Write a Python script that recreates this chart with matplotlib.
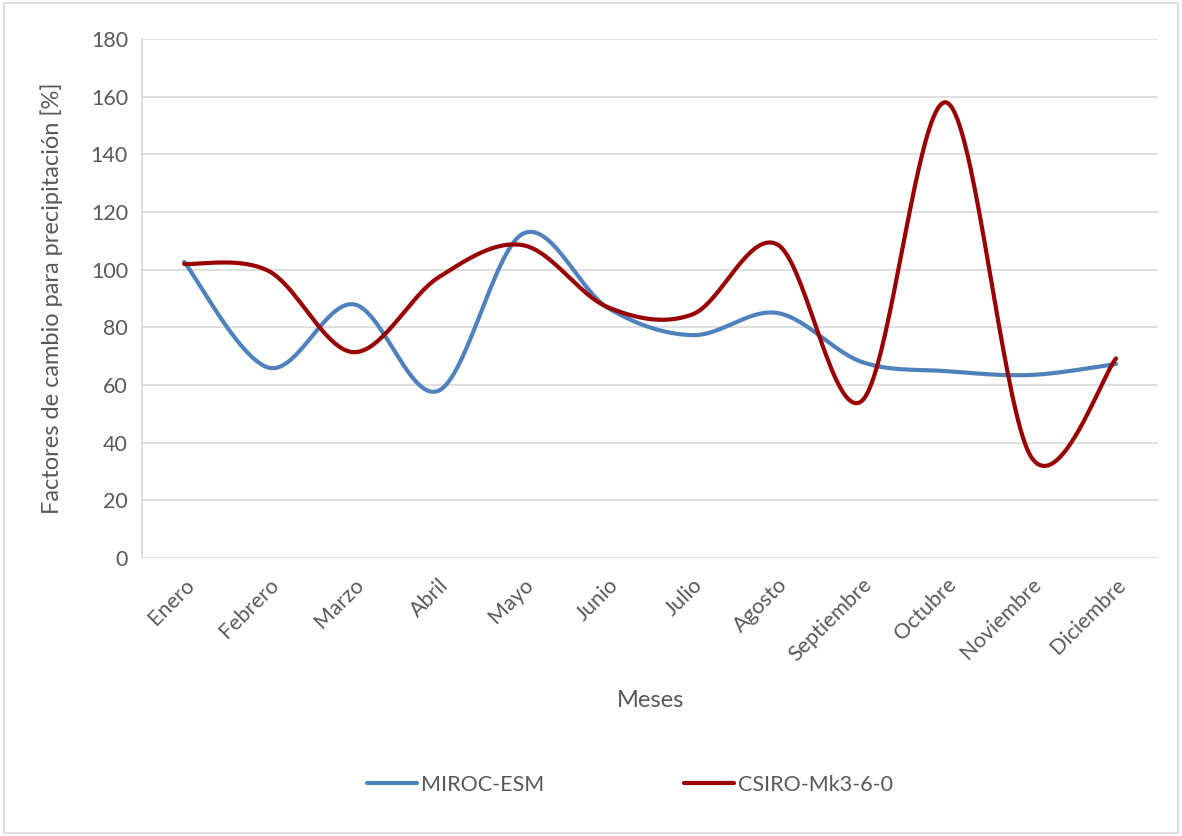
import matplotlib
matplotlib.use("Agg")
import matplotlib.pyplot as plt
import numpy as np

plt.rcParams['font.family'] = ['Lato', 'DejaVu Sans']

# data
meses = ["Enero", "Febrero", "Marzo", "Abril", "Mayo", "Junio", "Julio",
         "Agosto", "Septiembre", "Octubre", "Noviembre", "Diciembre"]
miroc = [102.7, 66.0, 88.0, 58.0, 112.5, 86.8, 77.3, 85.0, 68.0, 64.8, 63.5, 67.3]
csiro = [102.0, 99.5, 71.4, 97.3, 108.5, 87.0, 84.5, 108.8, 54.5, 158.0, 35.0, 69.2]


def smooth(y, n=40):
    # Excel style smoothed line: cubic Bezier through the points
    x = np.arange(len(y), dtype=float)
    y = np.asarray(y, dtype=float)
    px = np.concatenate([[x[0]], x, [x[-1]]])
    py = np.concatenate([[y[0]], y, [y[-1]]])
    xs, ys = [], []
    t = np.linspace(0, 1, n)
    for i in range(len(y) - 1):
        p0 = np.array([px[i + 1], py[i + 1]])
        p3 = np.array([px[i + 2], py[i + 2]])
        c1 = p0 + (p3 - np.array([px[i], py[i]])) / 6
        c2 = p3 - (np.array([px[i + 3], py[i + 3]]) - p0) / 6
        b = ((1 - t) ** 3)[:, None] * p0 + (3 * (1 - t) ** 2 * t)[:, None] * c1 \
            + (3 * (1 - t) * t ** 2)[:, None] * c2 + (t ** 3)[:, None] * p3
        xs.extend(b[:, 0])
        ys.extend(b[:, 1])
    return np.array(xs), np.array(ys)


fig = plt.figure(figsize=(11.82, 8.36), dpi=100)
ax = fig.add_axes([0.120, 0.3325, 0.860, 0.6208])

grey = "#595959"
x1, y1 = smooth(miroc)
x2, y2 = smooth(csiro)
ax.plot(x1, y1, color="#4f81bd", lw=3, label="MIROC-ESM", solid_capstyle="round")
ax.plot(x2, y2, color="#990000", lw=3, label="CSIRO-Mk3-6-0", solid_capstyle="round")

ax.set_xlim(-0.5, len(meses) - 0.5)
ax.set_ylim(0, 180)
ax.set_yticks(np.arange(0, 181, 20))
ax.set_xticks(np.arange(len(meses)))
ax.set_xticklabels(meses, rotation=45, ha="right", rotation_mode="anchor")
ax.grid(axis="y", color="#d9d9d9", lw=1.2)
ax.set_axisbelow(True)
ax.tick_params(axis="both", length=0, labelsize=15.5, colors=grey, pad=10)
ax.tick_params(axis="x", pad=12)
for s in ["top", "right", "bottom"]:
    ax.spines[s].set_visible(False)
ax.spines["left"].set_color("#d9d9d9")
ax.spines["left"].set_linewidth(1.2)

ax.set_ylabel("Factores de cambio para precipitación [%]", fontsize=17, color=grey, labelpad=20)
ax.set_xlabel("Meses", fontsize=17, color=grey, labelpad=18)

fig.legend(loc="center", bbox_to_anchor=(0.533, 0.061), ncol=2, frameon=False,
           fontsize=15.5, labelcolor=grey, handlelength=2.3, columnspacing=6.5,
           handletextpad=0.2)

# outer chart border
fig.patches.append(plt.Rectangle((0.003, 0.003), 0.994, 0.994, transform=fig.transFigure,
                                 fill=False, edgecolor="#d9d9d9", lw=1.2))

fig.savefig("out.png", dpi=100)
